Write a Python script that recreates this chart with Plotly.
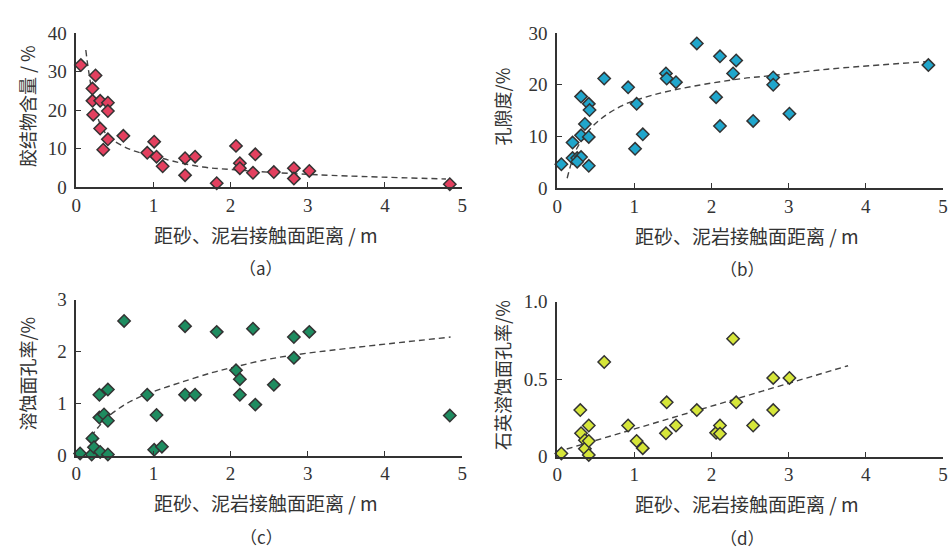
import plotly.graph_objects as go

# ---------------- data ----------------
# (a) cement content
a_x = [0.06, 0.25, 0.21, 0.21, 0.31, 0.41, 0.41, 0.22, 0.31, 0.41, 0.35, 0.61, 0.92, 1.01, 1.04,
       1.12, 1.41, 1.54, 1.41, 1.82, 2.07, 2.12, 2.12, 2.29, 2.32, 2.56, 2.82, 2.82, 3.02, 4.84]
a_y = [31.7, 29.0, 25.6, 22.4, 22.4, 21.9, 19.75, 18.8, 15.2, 12.4, 9.7, 13.3, 8.9, 11.8, 7.9,
       5.4, 7.5, 7.9, 3.1, 1.0, 10.7, 6.2, 4.9, 3.7, 8.5, 3.9, 4.9, 2.2, 4.2, 0.75]
a_trend_x = [0.124, 0.167, 0.27, 0.4, 0.7, 1.0, 1.26, 1.64, 1.98, 3.0, 4.79]
a_trend_y = [35.6, 29.3, 18.5, 13.5, 9.75, 8.1, 6.7, 5.2, 4.6, 3.3, 2.1]

# (b) porosity
b_x = [0.055, 0.2, 0.2, 0.26, 0.31, 0.26, 0.31, 0.31, 0.36, 0.41, 0.42, 0.41, 0.41, 0.61, 0.92,
       1.03, 1.01, 1.11, 1.41, 1.42, 1.54, 1.81, 2.06, 2.11, 2.11, 2.28, 2.32, 2.54, 2.8, 2.8, 3.01, 4.81]
b_y = [4.6, 8.8, 5.8, 5.8, 6.0, 5.1, 17.7, 10.2, 12.4, 16.3, 15.1, 9.9, 4.3, 21.2, 19.5,
       16.3, 7.6, 10.4, 22.2, 21.2, 20.5, 28.0, 17.6, 25.5, 12.0, 22.2, 24.7, 13.0, 21.4, 20.0, 14.4, 23.8]
b_trend_x = [0.13, 0.26, 0.47, 0.82, 1.24, 1.76, 2.4, 2.8, 3.5, 4.81]
b_trend_y = [1.9, 7.8, 12.1, 15.8, 18.0, 19.7, 21.2, 21.8, 23.0, 24.5]

# (c) dissolution face porosity
c_x = [0.05, 0.2, 0.21, 0.23, 0.31, 0.41, 0.3, 0.41, 0.3, 0.36, 0.41, 0.62, 0.92, 1.04, 1.01,
       1.11, 1.41, 1.41, 1.54, 1.82, 2.07, 2.12, 2.12, 2.29, 2.32, 2.56, 2.82, 2.82, 3.02, 4.84]
c_y = [0.04, 0.02, 0.33, 0.16, 0.07, 0.02, 1.17, 1.27, 0.73, 0.79, 0.67, 2.59, 1.17, 0.78, 0.11,
       0.17, 2.49, 1.17, 1.17, 2.38, 1.64, 1.47, 1.17, 2.44, 0.98, 1.36, 2.28, 1.88, 2.38, 0.77]
c_trend_x = [0.19, 0.4, 0.7, 1.0, 1.34, 1.77, 2.07, 2.41, 2.8, 3.5, 4.85]
c_trend_y = [0.36, 0.73, 1.04, 1.23, 1.4, 1.6, 1.71, 1.83, 1.93, 2.06, 2.28]

# (d) quartz dissolution face porosity
d_x = [0.055, 0.3, 0.31, 0.36, 0.36, 0.41, 0.41, 0.41, 0.61, 0.92, 1.03, 1.11, 1.42, 1.41, 1.54,
       1.81, 2.06, 2.11, 2.11, 2.28, 2.32, 2.54, 2.8, 2.8, 3.01]
d_y = [0.02, 0.3, 0.15, 0.105, 0.05, 0.2, 0.1, 0.01, 0.61, 0.2, 0.1, 0.054, 0.35, 0.15, 0.2,
       0.3, 0.153, 0.2, 0.147, 0.76, 0.35, 0.2, 0.507, 0.3, 0.507]
d_trend_x = [0.0, 3.77]
d_trend_y = [0.03, 0.586]

x_title = "距砂、泥岩接触面距离 / m"
y_titles = ["胶结物含量 / %", "孔隙度/%", "溶蚀面孔率/%", "石英溶蚀面孔率/%"]
panel_labels = ["（a）", "（b）", "（c）", "（d）"]
y_ranges = [[0, 40], [0, 30], [0, 3], [0, 1.0]]
y_tickvals = [[0, 10, 20, 30, 40], [0, 10, 20, 30], [0, 1, 2, 3], [0, 0.5, 1.0]]
y_ticktext = [["0", "10", "20", "30", "40"], ["0", "10", "20", "30"], ["0", "1", "2", "3"], ["0", "0.5", "1.0"]]
x_tickvals = [0, 1, 2, 3, 4, 5]

colors = ["#e3405f", "#20a6cc", "#1e8c60", "#d6e63a"]

# ---------------- layout geometry (pixels) ----------------
W, H = 950, 557
px_x = [(72, 462), (558, 948), (72, 462), (558, 948)]
px_y = [(24, 184), (24, 185), (301, 463), (303, 464)]

def fx(p):
    return p / W

def fy(p):
    return 1 - p / H

fig = go.Figure()
series = [(a_x, a_y, a_trend_x, a_trend_y), (b_x, b_y, b_trend_x, b_trend_y),
          (c_x, c_y, c_trend_x, c_trend_y), (d_x, d_y, d_trend_x, d_trend_y)]

axis_common = dict(showline=True, linecolor="#333", linewidth=1.5, ticks="inside", ticklen=5,
                   tickwidth=1.3, tickcolor="#333", showgrid=False, zeroline=False,
                   tickfont=dict(family="Liberation Serif", size=19, color="#333"))

annotations = []
for i, (sx, sy, tx, ty) in enumerate(series):
    n = "" if i == 0 else str(i + 1)
    xa, ya = "x" + n, "y" + n
    fig.add_trace(go.Scatter(x=tx, y=ty, xaxis=xa, yaxis=ya, mode="lines",
                             line=dict(color="#444", width=1.4, dash="6px,4px", shape="spline"),
                             hoverinfo="skip", showlegend=False))
    fig.add_trace(go.Scatter(x=sx, y=sy, xaxis=xa, yaxis=ya, mode="markers", cliponaxis=False,
                             marker=dict(symbol="diamond", size=9.5, color=colors[i],
                                         line=dict(color="#333", width=1.5)),
                             showlegend=False))
    fig.layout["xaxis" + n] = dict(axis_common, domain=[fx(px_x[i][0]), fx(px_x[i][1])],
                                   range=[0, 5], tickvals=x_tickvals, anchor=ya)
    fig.layout["yaxis" + n] = dict(axis_common, domain=[fy(px_y[i][1]), fy(px_y[i][0])],
                                   range=y_ranges[i], tickvals=y_tickvals[i],
                                   ticktext=y_ticktext[i], anchor=xa, ticklabelstandoff=4)
    cx = (px_x[i][0] + px_x[i][1]) / 2
    # x title
    annotations.append(dict(x=fx(cx - 3), y=fy(px_y[i][1] + 49), xref="paper", yref="paper",
                            text=x_title, showarrow=False, xanchor="center", yanchor="middle",
                            font=dict(family="Noto Sans CJK SC", size=19, color="#333")))
    # panel label
    annotations.append(dict(x=fx(cx - 8), y=fy(px_y[i][1] + 84), xref="paper", yref="paper",
                            text=panel_labels[i], showarrow=False, xanchor="center", yanchor="middle",
                            font=dict(family="Noto Sans CJK SC", size=17, color="#333")))
    # y title
    ycx = 22 if i in (0, 2) else 502
    ycy = (px_y[i][0] + px_y[i][1]) / 2 - 4
    annotations.append(dict(x=fx(ycx), y=fy(ycy), xref="paper", yref="paper", textangle=-90,
                            text=y_titles[i], showarrow=False, xanchor="center", yanchor="middle",
                            font=dict(family="Noto Sans CJK SC", size=18, color="#333")))

fig.update_layout(width=W, height=H, margin=dict(l=0, r=0, t=0, b=0),
                  paper_bgcolor="white", plot_bgcolor="white", annotations=annotations,
                  showlegend=False)

fig.write_html("out.html")
